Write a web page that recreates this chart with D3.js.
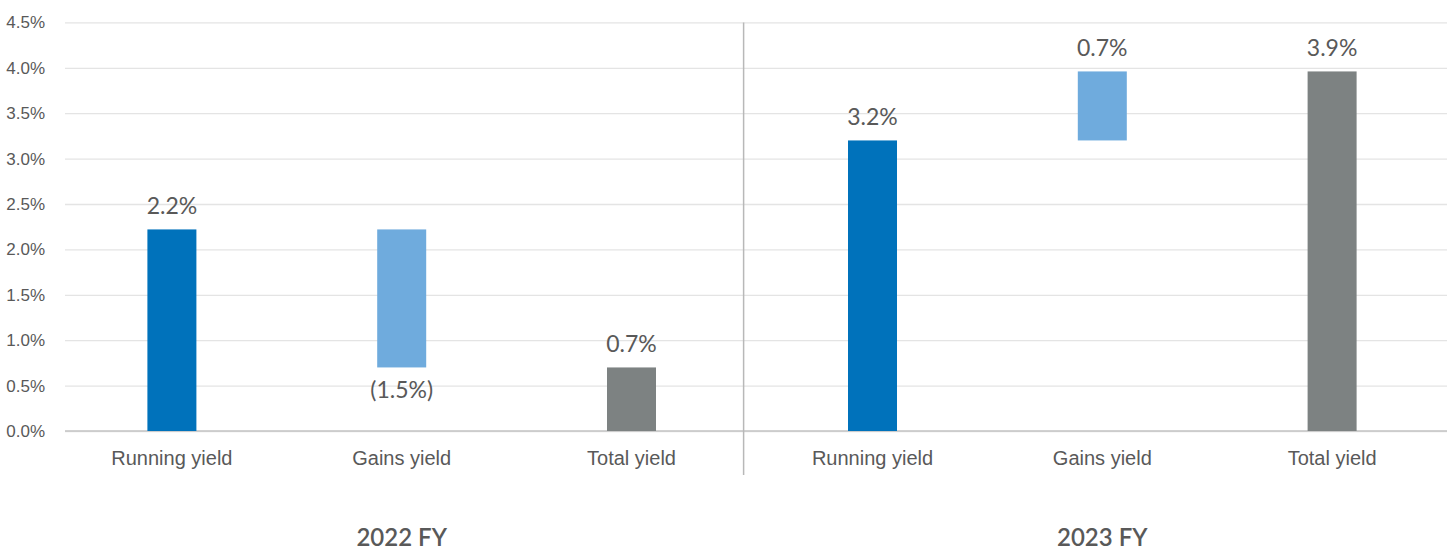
<!DOCTYPE html>
<html>
<head>
<meta charset="utf-8">
<script src="https://cdn.jsdelivr.net/npm/d3@7"></script>
<style>
  html, body { margin: 0; padding: 0; background: #fff; }
  svg { display: block; font-family: Lato, "Open Sans", sans-serif; }
</style>
</head>
<body>
<svg id="chart" width="1455" height="550"></svg>
<script>
const years = ["2022 FY", "2023 FY"];
const categories = ["Running yield", "Gains yield", "Total yield"];
const runningYield = [2.22, 3.2];
const gainsYield = [-1.52, 0.76];
const totalYield = [0.7, 3.96];
const runningLabels = ["2.2%", "3.2%"];
const gainsLabels = ["(1.5%)", "0.7%"];
const totalLabels = ["0.7%", "3.9%"];
const yTicks = [0, 0.5, 1, 1.5, 2, 2.5, 3, 3.5, 4, 4.5];

const colors = {
  "Running yield": "#0072bb",
  "Gains yield": "#6fabdd",
  "Total yield": "#7d8282"
};
const textColor = "#595959";

const plotLeft = 65, plotRight = 1447;
const plotTop = 22.4, plotBottom = 431;
const barWidth = 49;

const svg = d3.select("#chart");

const y = d3.scaleLinear().domain([0, 4.5]).range([plotBottom, plotTop]);
const xOuter = d3.scaleBand().domain(years).range([57, plotRight]).paddingInner(0.016);
const xInner = d3.scaleBand().domain(categories).range([0, xOuter.bandwidth()]);

// bars: running from 0, gains floats on top of running, total from 0
const bars = [];
years.forEach((yr, i) => {
  const r = runningYield[i], g = gainsYield[i], t = totalYield[i];
  bars.push({ year: yr, cat: "Running yield", lo: 0, hi: r, label: runningLabels[i], below: false });
  bars.push({ year: yr, cat: "Gains yield", lo: Math.min(r, r + g), hi: Math.max(r, r + g), label: gainsLabels[i], below: g < 0 });
  bars.push({ year: yr, cat: "Total yield", lo: 0, hi: t, label: totalLabels[i], below: false });
});

const cx = d => xOuter(d.year) + xInner(d.cat) + xInner.bandwidth() / 2;

// gridlines
svg.append("g")
  .attr("transform", `translate(${plotLeft},0)`)
  .call(d3.axisLeft(y).tickValues(yTicks).tickSize(-(plotRight - plotLeft)).tickFormat(""))
  .call(g => g.select(".domain").remove())
  .call(g => g.selectAll("line").attr("stroke", "#e4e4e4").attr("stroke-width", 1.3));

// y labels
svg.append("g")
  .attr("transform", `translate(${plotLeft},0)`)
  .call(d3.axisLeft(y).tickValues(yTicks).tickSize(0).tickPadding(20).tickFormat(d => d.toFixed(1) + "%"))
  .call(g => g.select(".domain").remove())
  .call(g => g.selectAll("text").attr("fill", textColor).style("font-size", "17px"));

// baseline
svg.append("line")
  .attr("x1", plotLeft).attr("x2", plotRight)
  .attr("y1", y(0)).attr("y2", y(0))
  .attr("stroke", "#c4c4c4").attr("stroke-width", 1.5);

// divider between years
const divX = xOuter(years[1]) - 14;
svg.append("line")
  .attr("x1", divX).attr("x2", divX)
  .attr("y1", plotTop).attr("y2", 475)
  .attr("stroke", "#b8b8b8").attr("stroke-width", 1.5);

svg.append("g")
  .selectAll("rect")
  .data(bars)
  .join("rect")
  .attr("x", d => cx(d) - barWidth / 2)
  .attr("width", barWidth)
  .attr("y", d => y(d.hi))
  .attr("height", d => y(d.lo) - y(d.hi))
  .attr("fill", d => colors[d.cat]);

svg.append("g")
  .selectAll("text")
  .data(bars)
  .join("text")
  .attr("x", cx)
  .attr("y", d => d.below ? y(d.lo) + 31 : y(d.hi) - 15)
  .attr("text-anchor", "middle")
  .attr("fill", textColor)
  .style("font-size", "23px")
  .text(d => d.label);

// category labels per year
years.forEach(yr => {
  svg.append("g")
    .attr("transform", `translate(${xOuter(yr)},${plotBottom})`)
    .call(d3.axisBottom(xInner).tickSize(0))
    .call(g => g.select(".domain").remove())
    .call(g => g.selectAll("text")
      .attr("dy", null).attr("y", 34)
      .attr("fill", textColor).style("font-size", "20px"));
});

// year labels
svg.append("g")
  .selectAll("text")
  .data(years)
  .join("text")
  .attr("x", d => xOuter(d) + xOuter.bandwidth() / 2)
  .attr("y", 546)
  .attr("text-anchor", "middle")
  .attr("fill", textColor)
  .style("font-size", "24px")
  .style("font-weight", 600)
  .text(d => d);
</script>
</body>
</html>
